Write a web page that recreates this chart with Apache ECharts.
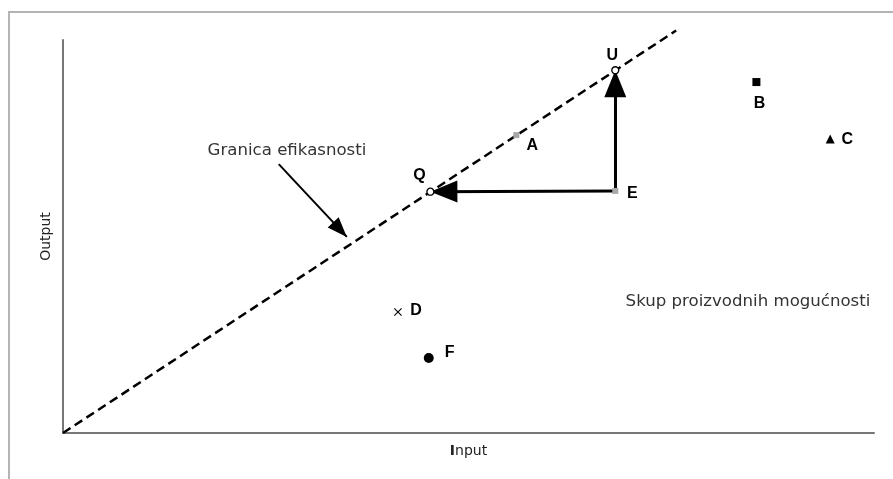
<!DOCTYPE html>
<html style="height: 100%">
<head>
<meta charset="utf-8">
<script src="https://cdn.jsdelivr.net/npm/echarts@6/dist/echarts.min.js"></script>
</head>
<body style="height: 100%; margin: 0; background: #fff">
<div id="container" style="width: 893px; height: 479px"></div>
<script type="text/javascript">
// frontier (dashed), from the origin up past U
const frontier = [[0, 0], [75.6, 102.4]];
// named points: input, output
const pointNames = ['A', 'B', 'C', 'D', 'E', 'F', 'Q', 'U'];
const pointInput = [55.9, 85.5, 94.6, 41.3, 68.1, 45.1, 45.3, 68.1];
const pointOutput = [75.8, 89.3, 74.8, 30.8, 61.6, 19.1, 61.4, 92.3];
// moves from E onto the frontier
const moves = [['E', 'Q'], ['E', 'U']];
// pointer from the label to the frontier
const pointer = [[26.6, 68.4], [35.0, 49.9]];

let dom = document.getElementById('container');
let chart = echarts.init(dom);

const font = 'DejaVu Sans';
const markStyle = {
  A: { symbol: 'rect', symbolSize: 6, color: '#a8a8a8', offset: [16, 10] },
  B: { symbol: 'rect', symbolSize: 8, color: '#000', offset: [3, 22] },
  C: { symbol: 'triangle', symbolSize: 9, color: '#000', offset: [17, 1] },
  D: { symbol: 'path://M0,1L1,0L5,4L9,0L10,1L6,5L10,9L9,10L5,6L1,10L0,9L4,5Z', symbolSize: 8, color: '#000', offset: [18, -1] },
  E: { symbol: 'rect', symbolSize: 6, color: '#a8a8a8', offset: [17, 3] },
  F: { symbol: 'circle', symbolSize: 10, color: '#000', offset: [21, -5] },
  Q: { symbol: 'circle', symbolSize: 7, color: '#fff', border: true, offset: [-11, -16] },
  U: { symbol: 'circle', symbolSize: 7, color: '#fff', border: true, offset: [-3, -15] }
};

function pt(name) {
  let i = pointNames.indexOf(name);
  return [pointInput[i], pointOutput[i]];
}

let scatterData = pointNames.map(function (n, i) {
  let s = markStyle[n];
  return {
    name: n,
    value: [pointInput[i], pointOutput[i]],
    symbol: s.symbol,
    symbolSize: s.symbolSize,
    itemStyle: { color: s.color, borderColor: '#000', borderWidth: s.border ? 1.3 : 0, opacity: 1 },
    label: { offset: s.offset }
  };
});

// every arrow: [from, to, head size, shaft width]
let arrows = moves.map(function (m) { return [pt(m[0]), pt(m[1]), [22, 27], 3]; });
arrows.push([pointer[0], pointer[1], [15, 20], 2]);

chart.setOption({
  animation: false,
  grid: { left: 63, right: 19, top: 40, bottom: 46 },
  xAxis: {
    type: 'value', min: 0, max: 100,
    name: '{b|I}nput', nameLocation: 'middle', nameGap: 11,
    nameTextStyle: {
      fontFamily: font, fontSize: 14, color: '#222',
      rich: { b: { fontFamily: font, fontSize: 14, fontWeight: 'bold', color: '#222' } }
    },
    axisLine: { lineStyle: { color: '#777', width: 2 } },
    axisTick: { show: false }, axisLabel: { show: false }, splitLine: { show: false }
  },
  yAxis: {
    type: 'value', min: 0, max: 100,
    name: 'Output', nameLocation: 'middle', nameGap: 10,
    nameTextStyle: { fontFamily: font, fontSize: 14, color: '#222' },
    axisLine: { lineStyle: { color: '#777', width: 2 } },
    axisTick: { show: false }, axisLabel: { show: false }, splitLine: { show: false }
  },
  graphic: [
    { type: 'line', shape: { x1: 8, y1: 12, x2: 893, y2: 12 }, style: { stroke: '#b4b4b4', lineWidth: 2 } },
    { type: 'line', shape: { x1: 9, y1: 12, x2: 9, y2: 479 }, style: { stroke: '#b4b4b4', lineWidth: 2 } },
    { type: 'text', x: 287, y: 151, style: { text: 'Granica efikasnosti', font: '16.6px "DejaVu Sans"', fill: '#333', align: 'center', verticalAlign: 'middle' } },
    { type: 'text', x: 748, y: 302, style: { text: 'Skup proizvodnih mogućnosti', font: '16.6px "DejaVu Sans"', fill: '#333', align: 'center', verticalAlign: 'middle' } }
  ],
  series: [
    {
      type: 'line',
      data: frontier,
      clip: false,
      symbol: 'none',
      lineStyle: { color: '#000', width: 2.5, type: [9, 5] },
      z: 2
    },
    {
      id: 'shafts',
      type: 'lines',
      coordinateSystem: 'cartesian2d',
      data: arrows.map(function (a) {
        return { coords: [a[0], a[1]], lineStyle: { width: a[3] } };
      }),
      symbol: 'none',
      lineStyle: { color: '#000', opacity: 1 },
      z: 3
    },
    {
      id: 'heads',
      type: 'scatter',
      data: [],
      symbol: 'triangle',
      itemStyle: { color: '#000', opacity: 1 },
      z: 3
    },
    {
      type: 'scatter',
      data: scatterData,
      label: {
        show: true,
        formatter: '{b}',
        position: 'inside',
        fontFamily: 'Liberation Sans',
        fontWeight: 'bold',
        fontSize: 16,
        color: '#000'
      },
      z: 4
    }
  ]
});

// arrowheads: tip on the end point, turned along the shaft
let heads = arrows.map(function (a) {
  let p0 = chart.convertToPixel({ gridIndex: 0 }, a[0]);
  let p1 = chart.convertToPixel({ gridIndex: 0 }, a[1]);
  let dx = p1[0] - p0[0], dy = p1[1] - p0[1];
  let len = Math.sqrt(dx * dx + dy * dy);
  let ux = dx / len, uy = dy / len;
  let h = a[2][1];
  // triangle points up; screen angle of the shaft, counter-clockwise
  let ang = Math.atan2(-dy, dx) * 180 / Math.PI;
  return {
    value: a[1],
    symbolSize: a[2],
    symbolRotate: ang - 90,
    symbolOffset: [-ux * h / 2, -uy * h / 2]
  };
});
chart.setOption({ series: [{ id: 'heads', data: heads }] });
</script>
</body>
</html>
